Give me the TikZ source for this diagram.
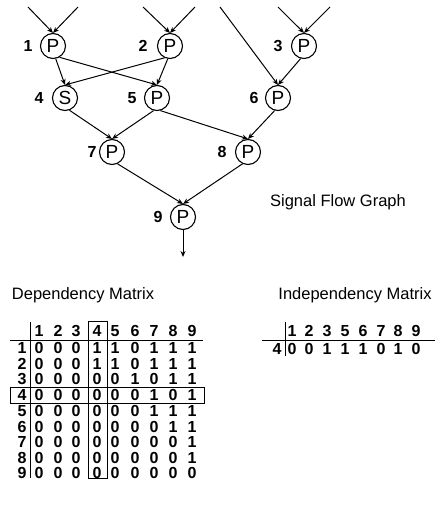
\documentclass[tikz,border=0pt]{standalone}
\usepackage{fontspec}
\setmainfont{Liberation Sans}
\usetikzlibrary{arrows.meta}
\begin{document}
\begin{tikzpicture}[x=1pt,y=-1pt,
  proc/.style={circle,draw,line width=1.1pt,minimum size=25pt,inner sep=0pt,font=\fontsize{19}{19}\selectfont},
  lbl/.style={font=\fontsize{16}{16}\selectfont\bfseries,inner sep=0pt},
  dig/.style={font=\fontsize{16}{16}\selectfont\bfseries,inner sep=0pt},
  ttl/.style={font=\fontsize{16.5}{16.5}\selectfont,inner sep=0pt},
  edge/.style={line width=1pt,-{Stealth[length=6pt,width=5pt]}},
  rule/.style={line width=1pt}]
\useasboundingbox (0,0) rectangle (443,516);
% nodes
\node[proc] (n1) at (53,46) {P};
\node[proc] (n2) at (170,46) {P};
\node[proc] (n3) at (304,46) {P};
\node[proc] (n4) at (65,98) {S};
\node[proc] (n5) at (157,98) {P};
\node[proc] (n6) at (278,98) {P};
\node[proc] (n7) at (112,152) {P};
\node[proc] (n8) at (248,152) {P};
\node[proc] (n9) at (183,217) {P};
% labels
\node[lbl] (l1) at (28,46) {1};
\node[lbl] (l2) at (143,46) {2};
\node[lbl] (l3) at (278,46) {3};
\node[lbl] (l4) at (39,98) {4};
\node[lbl] (l5) at (132,98) {5};
\node[lbl] (l6) at (254,98) {6};
\node[lbl] (l7) at (92,152) {7};
\node[lbl] (l8) at (222,152) {8};
\node[lbl] (l9) at (158,217) {9};
% inputs
\coordinate (i1a) at (28,7);
\coordinate (i1b) at (78,7);
\coordinate (i2a) at (143,7);
\coordinate (i2b) at (195,7);
\coordinate (i6a) at (220,7);
\coordinate (i3a) at (278,7);
\coordinate (i3b) at (330,7);
\coordinate (out) at (183,257);
\draw[edge] (i1a) -- (n1.north);
\draw[edge] (i1b) -- (n1.north);
\draw[edge] (i2a) -- (n2.north);
\draw[edge] (i2b) -- (n2.north);
\draw[edge] (i3a) -- (n3.north);
\draw[edge] (i3b) -- (n3.north);
\draw[edge] (i6a) -- (n6.north);
% edges
\draw[edge] (n1.-78) -- (n4.north);
\draw[edge] (n1.-60) -- (n5.north);
\draw[edge] (n2.-115) -- (n4.north);
\draw[edge] (n2.-100) -- (n5.north);
\draw[edge] (n3.-105) -- (n6.north);
\draw[edge] (n4.-70) -- (n7.north);
\draw[edge] (n5.-105) -- (n7.north);
\draw[edge] (n5.-75) -- (n8.north);
\draw[edge] (n6.-105) -- (n8.north);
\draw[edge] (n7.-65) -- (n9.north);
\draw[edge] (n8.-115) -- (n9.north);
\draw[edge] (n9.south) -- (out);
\node[ttl] (sfg) at (338,202) {Signal Flow Graph};
% Dependency matrix
\node[ttl] (dmt) at (83,295) {Dependency Matrix};
\foreach \c [count=\i] in {39,58,76,97,115,135,154,173,192}
  \node[dig] (dh-\i) at (\c,331) {\i};
\foreach \r [count=\j] in {348,363.5,379,395,411,426.5,442,457.5,473}
  \node[dig] (dr-\j) at (22,\r) {\j};
\foreach \row [count=\j] in {
  {0,0,0,1,1,0,1,1,1},
  {0,0,0,1,1,0,1,1,1},
  {0,0,0,0,0,1,0,1,1},
  {0,0,0,0,0,0,1,0,1},
  {0,0,0,0,0,0,1,1,1},
  {0,0,0,0,0,0,0,1,1},
  {0,0,0,0,0,0,0,0,1},
  {0,0,0,0,0,0,0,0,1},
  {0,0,0,0,0,0,0,0,0}} {
  \foreach \v [count=\i] in \row {
    \node[dig] (dv-\j-\i) at (dh-\i |- dr-\j) {\v};
  }
}
\draw[rule] (10,340) -- (203,340);
\draw[rule] (30,322) -- (30,478);
\draw[rule] (88,321) rectangle (107,478);
\draw[rule] (10,387) rectangle (204,403);
% Independency matrix
\node[ttl] (imt) at (355,295) {Independency Matrix};
\foreach \c/\n [count=\i] in {292/1,309/2,327/3,345/5,363/6,381/7,398/8,416/9}
  \node[dig] (ih-\i) at (\c,331) {\n};
\node[dig] (ir) at (277,349) {4};
\foreach \v [count=\i] in {0,0,1,1,1,0,1,0}
  \node[dig] (iv-\i) at (ih-\i |- ir) {\v};
\draw[rule] (262,340) -- (435,340);
\draw[rule] (285,322) -- (285,356);
\end{tikzpicture}
\end{document}
